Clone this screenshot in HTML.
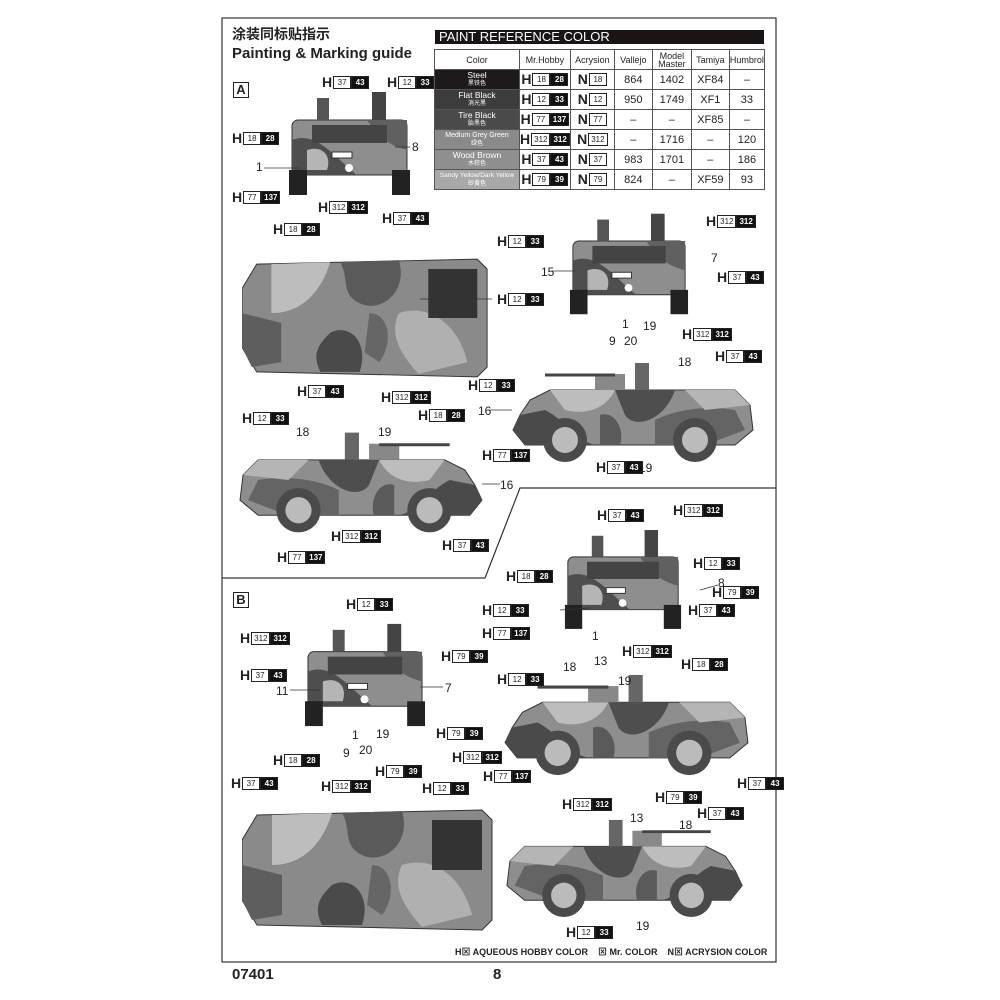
<!DOCTYPE html>
<html><head><meta charset="utf-8"><style>
body{margin:0;background:#fff;width:1000px;height:1000px;position:relative;overflow:hidden;font-family:"Liberation Sans","Noto Sans CJK SC",sans-serif;color:#222}
.a{position:absolute}
.L{position:absolute;white-space:nowrap;font-size:13px;line-height:13px;display:flex;align-items:center}
.L b{font-weight:bold;font-size:14px;margin-right:1px;color:#222}
.w,.k{display:inline-block;height:11px;line-height:11px;font-size:8px;padding:0 2px;min-width:12px;text-align:center;border:1px solid #222}
.w{background:#fff;color:#222}.k{background:#111;color:#fff;font-weight:bold}
.n{position:absolute;font-size:12px;color:#222}
table{border-collapse:collapse;font-size:9px}
td{border:1px solid #555;text-align:center;padding:0;height:19px}
.c{color:#fff;font-size:8.5px;line-height:9px}
.c small{font-size:6px;display:block}
.num{font-size:11px}
</style></head><body>
<svg class="a" style="left:0;top:0" width="1000" height="1000">
<defs>
<symbol id="side" viewBox="0 0 250 100">
<polygon points="15,55 25,40 45,30 230,30 245,45 248,70 230,85 20,85 8,70" fill="#8e8e8e" stroke="#333"/>
<path d="M45,30 L110,30 C100,50 80,55 60,50 Z" fill="#bdbdbd"/>
<path d="M110,30 L170,30 C160,60 130,70 120,55 Z" fill="#4e4e4e"/>
<path d="M150,60 C170,50 200,45 230,50 L240,70 L200,85 L150,85 Z" fill="#646464"/>
<path d="M15,55 L40,50 C60,60 70,80 90,85 L20,85 8,70 Z" fill="#4a4a4a"/>
<path d="M180,30 L230,30 245,45 200,50 Z" fill="#b5b5b5"/>
<path d="M95,55 C110,50 120,70 115,85 L95,85Z" fill="#5a5a5a"/>
<rect x="130" y="3" width="14" height="27" fill="#666"/>
<rect x="90" y="14" width="30" height="16" fill="#888"/>
<line x1="40" y1="15" x2="110" y2="15" stroke="#444" stroke-width="3"/>
<circle cx="60" cy="80" r="22" fill="#4a4a4a"/><circle cx="60" cy="80" r="13" fill="#bbb"/>
<circle cx="190" cy="80" r="22" fill="#4a4a4a"/><circle cx="190" cy="80" r="13" fill="#bbb"/>
</symbol>
<symbol id="front" viewBox="0 0 125 105">
<rect x="5" y="30" width="115" height="55" rx="6" fill="#8e8e8e" stroke="#333"/>
<path d="M5,50 C30,40 50,70 70,85 L5,85 Z" fill="#4e4e4e"/>
<path d="M80,30 L120,30 120,60 C100,55 90,45 80,30Z" fill="#606060"/>
<path d="M20,60 C35,55 45,65 40,80 L20,80Z" fill="#b5b5b5"/>
<rect x="25" y="35" width="75" height="18" fill="#444"/>
<rect x="30" y="8" width="12" height="22" fill="#555"/>
<rect x="85" y="2" width="14" height="28" fill="#444"/>
<rect x="2" y="80" width="18" height="25" fill="#222"/><rect x="105" y="80" width="18" height="25" fill="#222"/>
<rect x="45" y="62" width="20" height="6" fill="#fff" stroke="#333"/>
<circle cx="62" cy="78" r="4" fill="#fff"/>
</symbol>
<symbol id="top" viewBox="0 0 255 130">
<polygon points="15,10 240,5 250,15 250,115 240,125 15,120 0,95 0,35" fill="#8a8a8a" stroke="#333"/>
<path d="M30,10 L90,8 C80,40 60,60 30,60 Z" fill="#bdbdbd"/>
<path d="M100,8 L160,6 C170,40 140,60 120,50 C100,40 110,25 100,8Z" fill="#5a5a5a"/>
<path d="M90,80 C110,70 130,90 120,120 L80,120 C70,100 80,90 90,80Z" fill="#4a4a4a"/>
<path d="M160,60 C190,50 220,70 230,110 L180,122 C160,100 150,80 160,60Z" fill="#b0b0b0"/>
<path d="M130,60 C150,60 155,90 140,110 L125,100Z" fill="#666"/>
<rect x="190" y="15" width="50" height="50" fill="#333"/>
<path d="M0,60 L40,70 L40,110 L10,115 L0,95Z" fill="#5e5e5e"/>
</symbol>
</defs>
<rect x="222" y="18" width="554" height="944" fill="none" stroke="#333" stroke-width="1.2"/>
<polyline points="776,488 520,488 485,578 222,578" fill="none" stroke="#333" stroke-width="1.2"/>
<use href="#front" x="287" y="90" width="125" height="105"/>
<use href="#top" x="242" y="253" width="250" height="130"/>
<use href="#front" x="568" y="208" width="122" height="110"/>
<use href="#side" x="505" y="355" width="250" height="110"/>
<use href="#side" x="238" y="425" width="252" height="110" transform="translate(728,0) scale(-1,1)"/>
<use href="#front" x="563" y="522" width="120" height="113"/>
<use href="#front" x="303" y="620" width="124" height="108"/>
<use href="#side" x="497" y="665" width="253" height="115"/>
<use href="#top" x="242" y="805" width="255" height="130"/>
<use href="#side" x="505" y="810" width="245" height="112" transform="translate(1255,0) scale(-1,1)"/>
<g stroke="#333" stroke-width="0.8">
<line x1="264" y1="168" x2="300" y2="168"/><line x1="395" y1="147" x2="410" y2="147"/>
<line x1="420" y1="299" x2="492" y2="299"/><line x1="552" y1="271" x2="575" y2="271"/>
<line x1="490" y1="410" x2="512" y2="410"/><line x1="482" y1="484" x2="500" y2="484"/>
<line x1="700" y1="590" x2="718" y2="585"/><line x1="290" y1="690" x2="320" y2="690"/>
<line x1="420" y1="687" x2="443" y2="687"/><line x1="560" y1="610" x2="590" y2="608"/>
</g>
</svg>
<div class="a" style="left:232px;top:24px;font-size:14px;font-weight:bold">涂装同标贴指示</div>
<div class="a" style="left:232px;top:45px;font-size:15px;font-weight:bold">Painting &amp; Marking guide</div>
<div class="a" style="left:233px;top:82px;width:14px;height:14px;border:1px solid #222;font-weight:bold;font-size:13px;text-align:center;line-height:14px">A</div>
<div class="a" style="left:233px;top:592px;width:14px;height:14px;border:1px solid #222;font-weight:bold;font-size:13px;text-align:center;line-height:14px">B</div>
<div class="a" style="left:435px;top:30px;width:329px;height:14px;background:#1a1414;color:#fff;font-size:13px;line-height:14px;padding-left:4px;box-sizing:border-box">PAINT REFERENCE COLOR</div>
<table class="a" style="left:434px;top:49px;width:331px">
<tr style="height:19px"><td style="width:84px">Color</td><td style="width:49px">Mr.Hobby</td><td style="width:43px">Acrysion</td><td style="width:37px">Vallejo</td><td style="width:38px;line-height:8px">Model<br>Master</td><td style="width:37px">Tamiya</td><td>Humbrol</td></tr>
<tr><td class="c" style="background:#1f1a1a">Steel<small>黑铁色</small></td><td><span class="L" style="position:static;justify-content:center"><b>H</b><span class="w">18</span><span class="k">28</span></span></td><td><span class="L" style="position:static;justify-content:center"><b>N</b><span class="w">18</span></span></td><td class="num">864</td><td class="num">1402</td><td class="num">XF84</td><td class="num">–</td></tr>
<tr><td class="c" style="background:#3c3c3c">Flat Black<small>消光黑</small></td><td><span class="L" style="position:static;justify-content:center"><b>H</b><span class="w">12</span><span class="k">33</span></span></td><td><span class="L" style="position:static;justify-content:center"><b>N</b><span class="w">12</span></span></td><td class="num">950</td><td class="num">1749</td><td class="num">XF1</td><td class="num">33</td></tr>
<tr><td class="c" style="background:#4a4a4a">Tire Black<small>胎黑色</small></td><td><span class="L" style="position:static;justify-content:center"><b>H</b><span class="w">77</span><span class="k">137</span></span></td><td><span class="L" style="position:static;justify-content:center"><b>N</b><span class="w">77</span></span></td><td class="num">–</td><td class="num">–</td><td class="num">XF85</td><td class="num">–</td></tr>
<tr><td class="c" style="background:#8a8a8a;font-size:7px">Medium Grey Green<small>绿色</small></td><td><span class="L" style="position:static;justify-content:center"><b>H</b><span class="w">312</span><span class="k">312</span></span></td><td><span class="L" style="position:static;justify-content:center"><b>N</b><span class="w">312</span></span></td><td class="num">–</td><td class="num">1716</td><td class="num">–</td><td class="num">120</td></tr>
<tr><td class="c" style="background:#8f8f8f">Wood Brown<small>木棕色</small></td><td><span class="L" style="position:static;justify-content:center"><b>H</b><span class="w">37</span><span class="k">43</span></span></td><td><span class="L" style="position:static;justify-content:center"><b>N</b><span class="w">37</span></span></td><td class="num">983</td><td class="num">1701</td><td class="num">–</td><td class="num">186</td></tr>
<tr><td class="c" style="background:#a8a8a8;font-size:6.5px">Sandy Yellow/Dark Yellow<small>砂黄色</small></td><td><span class="L" style="position:static;justify-content:center"><b>H</b><span class="w">79</span><span class="k">39</span></span></td><td><span class="L" style="position:static;justify-content:center"><b>N</b><span class="w">79</span></span></td><td class="num">824</td><td class="num">–</td><td class="num">XF59</td><td class="num">93</td></tr>
</table>

<div class="L" style="left:322px;top:76px"><b>H</b><span class="w">37</span><span class="k">43</span></div>
<div class="L" style="left:387px;top:76px"><b>H</b><span class="w">12</span><span class="k">33</span></div>
<div class="L" style="left:232px;top:132px"><b>H</b><span class="w">18</span><span class="k">28</span></div>
<div class="L" style="left:232px;top:191px"><b>H</b><span class="w">77</span><span class="k">137</span></div>
<div class="L" style="left:318px;top:201px"><b>H</b><span class="w">312</span><span class="k">312</span></div>
<div class="L" style="left:382px;top:212px"><b>H</b><span class="w">37</span><span class="k">43</span></div>
<div class="L" style="left:706px;top:215px"><b>H</b><span class="w">312</span><span class="k">312</span></div>
<div class="L" style="left:273px;top:223px"><b>H</b><span class="w">18</span><span class="k">28</span></div>
<div class="L" style="left:497px;top:235px"><b>H</b><span class="w">12</span><span class="k">33</span></div>
<div class="L" style="left:717px;top:271px"><b>H</b><span class="w">37</span><span class="k">43</span></div>
<div class="L" style="left:497px;top:293px"><b>H</b><span class="w">12</span><span class="k">33</span></div>
<div class="L" style="left:682px;top:328px"><b>H</b><span class="w">312</span><span class="k">312</span></div>
<div class="L" style="left:715px;top:350px"><b>H</b><span class="w">37</span><span class="k">43</span></div>
<div class="L" style="left:297px;top:385px"><b>H</b><span class="w">37</span><span class="k">43</span></div>
<div class="L" style="left:381px;top:391px"><b>H</b><span class="w">312</span><span class="k">312</span></div>
<div class="L" style="left:468px;top:379px"><b>H</b><span class="w">12</span><span class="k">33</span></div>
<div class="L" style="left:418px;top:409px"><b>H</b><span class="w">18</span><span class="k">28</span></div>
<div class="L" style="left:242px;top:412px"><b>H</b><span class="w">12</span><span class="k">33</span></div>
<div class="L" style="left:482px;top:449px"><b>H</b><span class="w">77</span><span class="k">137</span></div>
<div class="L" style="left:596px;top:461px"><b>H</b><span class="w">37</span><span class="k">43</span></div>
<div class="L" style="left:331px;top:530px"><b>H</b><span class="w">312</span><span class="k">312</span></div>
<div class="L" style="left:442px;top:539px"><b>H</b><span class="w">37</span><span class="k">43</span></div>
<div class="L" style="left:277px;top:551px"><b>H</b><span class="w">77</span><span class="k">137</span></div>
<div class="n" style="left:412px;top:140px">8</div><div class="n" style="left:256px;top:160px">1</div>
<div class="n" style="left:541px;top:265px">15</div><div class="n" style="left:711px;top:251px">7</div>
<div class="n" style="left:609px;top:334px">9</div><div class="n" style="left:622px;top:317px">1</div><div class="n" style="left:624px;top:334px">20</div><div class="n" style="left:643px;top:319px">19</div>
<div class="n" style="left:678px;top:355px">18</div><div class="n" style="left:478px;top:404px">16</div>
<div class="n" style="left:296px;top:425px">18</div><div class="n" style="left:378px;top:425px">19</div>
<div class="n" style="left:639px;top:461px">19</div><div class="n" style="left:500px;top:478px">16</div>

<div class="L" style="left:597px;top:509px"><b>H</b><span class="w">37</span><span class="k">43</span></div>
<div class="L" style="left:673px;top:504px"><b>H</b><span class="w">312</span><span class="k">312</span></div>
<div class="L" style="left:693px;top:557px"><b>H</b><span class="w">12</span><span class="k">33</span></div>
<div class="L" style="left:506px;top:570px"><b>H</b><span class="w">18</span><span class="k">28</span></div>
<div class="L" style="left:712px;top:586px"><b>H</b><span class="w">79</span><span class="k">39</span></div>
<div class="L" style="left:482px;top:604px"><b>H</b><span class="w">12</span><span class="k">33</span></div>
<div class="L" style="left:688px;top:604px"><b>H</b><span class="w">37</span><span class="k">43</span></div>
<div class="L" style="left:482px;top:627px"><b>H</b><span class="w">77</span><span class="k">137</span></div>
<div class="L" style="left:346px;top:598px"><b>H</b><span class="w">12</span><span class="k">33</span></div>
<div class="L" style="left:240px;top:632px"><b>H</b><span class="w">312</span><span class="k">312</span></div>
<div class="L" style="left:441px;top:650px"><b>H</b><span class="w">79</span><span class="k">39</span></div>
<div class="L" style="left:240px;top:669px"><b>H</b><span class="w">37</span><span class="k">43</span></div>
<div class="L" style="left:622px;top:645px"><b>H</b><span class="w">312</span><span class="k">312</span></div>
<div class="L" style="left:681px;top:658px"><b>H</b><span class="w">18</span><span class="k">28</span></div>
<div class="L" style="left:497px;top:673px"><b>H</b><span class="w">12</span><span class="k">33</span></div>
<div class="L" style="left:436px;top:727px"><b>H</b><span class="w">79</span><span class="k">39</span></div>
<div class="L" style="left:452px;top:751px"><b>H</b><span class="w">312</span><span class="k">312</span></div>
<div class="L" style="left:483px;top:770px"><b>H</b><span class="w">77</span><span class="k">137</span></div>
<div class="L" style="left:273px;top:754px"><b>H</b><span class="w">18</span><span class="k">28</span></div>
<div class="L" style="left:375px;top:765px"><b>H</b><span class="w">79</span><span class="k">39</span></div>
<div class="L" style="left:321px;top:780px"><b>H</b><span class="w">312</span><span class="k">312</span></div>
<div class="L" style="left:422px;top:782px"><b>H</b><span class="w">12</span><span class="k">33</span></div>
<div class="L" style="left:231px;top:777px"><b>H</b><span class="w">37</span><span class="k">43</span></div>
<div class="L" style="left:737px;top:777px"><b>H</b><span class="w">37</span><span class="k">43</span></div>
<div class="L" style="left:562px;top:798px"><b>H</b><span class="w">312</span><span class="k">312</span></div>
<div class="L" style="left:655px;top:791px"><b>H</b><span class="w">79</span><span class="k">39</span></div>
<div class="L" style="left:697px;top:807px"><b>H</b><span class="w">37</span><span class="k">43</span></div>
<div class="L" style="left:566px;top:926px"><b>H</b><span class="w">12</span><span class="k">33</span></div>
<div class="n" style="left:718px;top:576px">8</div><div class="n" style="left:592px;top:629px">1</div>
<div class="n" style="left:276px;top:684px">11</div><div class="n" style="left:445px;top:681px">7</div>
<div class="n" style="left:352px;top:728px">1</div><div class="n" style="left:376px;top:727px">19</div><div class="n" style="left:343px;top:746px">9</div><div class="n" style="left:359px;top:743px">20</div>
<div class="n" style="left:594px;top:654px">13</div><div class="n" style="left:563px;top:660px">18</div><div class="n" style="left:618px;top:674px">19</div>
<div class="n" style="left:630px;top:811px">13</div><div class="n" style="left:679px;top:818px">18</div><div class="n" style="left:636px;top:919px">19</div>

<div class="a" style="left:455px;top:945px;font-size:9px;font-weight:bold;white-space:nowrap">H⊠ AQUEOUS HOBBY COLOR &nbsp;&nbsp; ⊠ Mr. COLOR &nbsp;&nbsp; N⊠ ACRYSION COLOR</div>
<div class="a" style="left:232px;top:966px;font-size:15px;font-weight:bold">07401</div>
<div class="a" style="left:493px;top:966px;font-size:15px;font-weight:bold">8</div>
</body></html>
